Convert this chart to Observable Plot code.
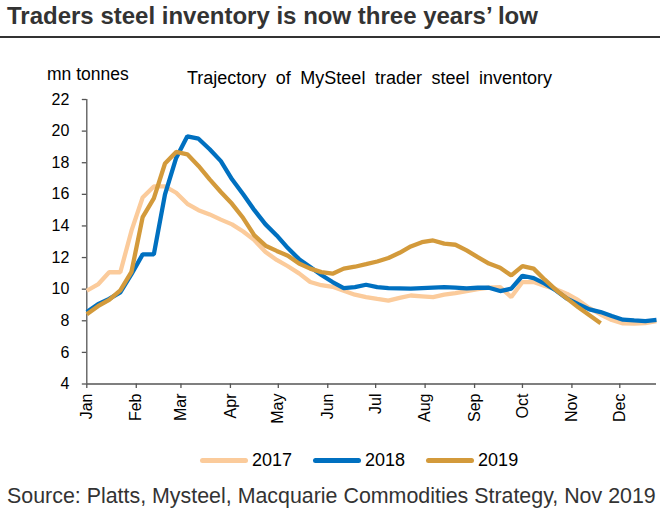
<!DOCTYPE html>
<html>
<head>
<meta charset="utf-8">
<script src="https://cdn.jsdelivr.net/npm/d3@7"></script>
<script src="https://cdn.jsdelivr.net/npm/@observablehq/plot@0.6"></script>
<style>
  html, body { margin: 0; padding: 0; background: #fff; }
  body { width: 660px; height: 515px; position: relative; overflow: hidden; font-family: "Liberation Sans", Arial, sans-serif; }
  #title { position: absolute; left: 7px; top: 2px; font-size: 24px; font-weight: bold; color: #333; white-space: nowrap; }
  #rule { position: absolute; left: 0; top: 36px; width: 660px; height: 2px; background: #333; }
  #unit { position: absolute; left: 47px; top: 64px; font-size: 17.5px; color: #000; white-space: nowrap; }
  #sub { position: absolute; left: 187px; top: 68px; font-size: 18px; color: #000; word-spacing: 4.5px; white-space: nowrap; }
  #chart { position: absolute; left: 0; top: 0; }
  #legend { position: absolute; left: 200px; top: 450px; display: flex; align-items: center; font-size: 18px; color: #000; }
  .item { display: flex; align-items: center; margin-right: 21px; }
  .sw { width: 48px; height: 5px; border-radius: 3px; margin-right: 4px; }
  #source { position: absolute; left: 7px; top: 484px; font-size: 21.4px; color: #333; white-space: nowrap; }
</style>
</head>
<body>
<div id="title">Traders steel inventory is now three years’ low</div>
<div id="rule"></div>
<div id="chart"></div>
<div id="unit">mn tonnes</div>
<div id="sub">Trajectory of MySteel trader steel inventory</div>
<div id="legend"></div>
<div id="source">Source: Platts, Mysteel, Macquarie Commodities Strategy, Nov 2019</div>
<script>
// Weekly observation dates (plotted on a common Jan–Dec calendar)
const weekDates = [
  "01-01","01-08","01-15","01-22","01-29",
  "02-05","02-12","02-19","02-26",
  "03-05","03-12","03-19","03-26",
  "04-02","04-09","04-16","04-23","04-30",
  "05-07","05-14","05-21","05-28",
  "06-04","06-11","06-18","06-25",
  "07-02","07-09","07-16","07-23","07-30",
  "08-06","08-13","08-20","08-27",
  "09-03","09-10","09-17","09-24",
  "10-01","10-08","10-15","10-22","10-29",
  "11-05","11-12","11-19","11-26",
  "12-03","12-10","12-17","12-24"
];

const series = ["2017", "2018", "2019"];
const colors = ["#FBCB9B", "#0070C0", "#D39A3B"];

const values2017 = [
  9.9, 10.3, 11.07, 11.07, 13.7, 15.8, 16.5, 16.5, 16.1, 15.4,
  15.0, 14.73, 14.4, 14.1, 13.65, 13.1, 12.35, 11.85, 11.45, 11.0,
  10.45, 10.25, 10.15, 9.9, 9.65, 9.5, 9.38, 9.28, 9.45, 9.6,
  9.55, 9.5, 9.65, 9.75, 9.88, 10.0, 10.1, 10.13, 9.5, 10.45,
  10.45, 10.2, 10.0, 9.7, 9.3, 8.8, 8.4, 8.05, 7.83, 7.82,
  7.85, 7.97
];
const values2018 = [
  8.55, 9.05, 9.38, 9.8, 10.95, 12.2, 12.2, 16.0, 18.3, 19.67,
  19.52, 18.85, 18.1, 16.95, 16.0, 15.0, 14.1, 13.4, 12.6, 11.9,
  11.4, 10.9, 10.45, 10.07, 10.13, 10.28, 10.13, 10.07, 10.05, 10.03,
  10.07, 10.1, 10.13, 10.1, 10.05, 10.09, 10.09, 9.88, 10.03, 10.85,
  10.7, 10.35, 9.92, 9.4, 9.05, 8.72, 8.55, 8.3, 8.07, 8.02,
  7.98, 8.06
];
const values2019 = [
  8.42, 8.92, 9.32, 9.92, 11.1, 14.56, 15.75, 17.95, 18.68, 18.53,
  17.8, 16.95, 16.15, 15.4, 14.5, 13.4, 12.75, 12.42, 12.12, 11.62,
  11.3, 11.08, 10.98, 11.3, 11.42, 11.58, 11.75, 11.97, 12.3, 12.7,
  12.97, 13.08, 12.88, 12.81, 12.45, 12.03, 11.62, 11.35, 10.87, 11.46,
  11.3, 10.6, 9.95, 9.4, 8.85, 8.35, 7.85
];

const yTicks = [4, 6, 8, 10, 12, 14, 16, 18, 20, 22];
const monthLabels = ["Jan","Feb","Mar","Apr","May","Jun","Jul","Aug","Sep","Oct","Nov","Dec"];

const parseDay = d3.utcParse("%Y-%m-%d");
const toDate = md => parseDay("2017-" + md);

const allValues = [values2017, values2018, values2019];
const rows = [];
series.forEach((s, i) => {
  allValues[i].forEach((v, j) => rows.push({ series: s, date: toDate(weekDates[j]), value: v }));
});

const monthTicks = monthLabels.map((m, i) => new Date(Date.UTC(2017, i, 1)));

const plot = Plot.plot({
  width: 660,
  height: 440,
  marginTop: 99,
  marginBottom: 56.5,
  marginLeft: 86.3,
  marginRight: 4,
  style: { fontFamily: "Liberation Sans, Arial, sans-serif", fontSize: "16px", color: "#000", background: "transparent" },
  x: { type: "utc", domain: [toDate(weekDates[0]), toDate(weekDates[weekDates.length - 1])] },
  y: { domain: [4, 22] },
  color: { domain: series, range: colors },
  marks: [
    Plot.axisY({ ticks: yTicks, tickSize: 4.5, tickPadding: 13, stroke: "#555", strokeWidth: 1.3, fill: "#000", label: null, fontSize: 16 }),
    Plot.ruleX([toDate(weekDates[0])], { stroke: "#555", strokeWidth: 1.3 }),
    Plot.axisX({ ticks: monthTicks, tickFormat: d => monthLabels[d.getUTCMonth()], tickRotate: -90, tickSize: 4.5, tickPadding: 5, stroke: "#555", strokeWidth: 1.3, fill: "#000", label: null, fontSize: 16 }),
    Plot.ruleY([4], { stroke: "#555", strokeWidth: 1.3 }),
    Plot.line(rows, { x: "date", y: "value", z: "series", stroke: "series", strokeWidth: 4.3, strokeLinejoin: "miter", strokeLinecap: "butt" })
  ]
});
document.getElementById("chart").appendChild(plot);

const legend = document.getElementById("legend");
series.forEach((s, i) => {
  const item = document.createElement("div");
  item.className = "item";
  const sw = document.createElement("span");
  sw.className = "sw";
  sw.style.background = colors[i];
  const lab = document.createElement("span");
  lab.textContent = s;
  item.appendChild(sw);
  item.appendChild(lab);
  legend.appendChild(item);
});
</script>
</body>
</html>
